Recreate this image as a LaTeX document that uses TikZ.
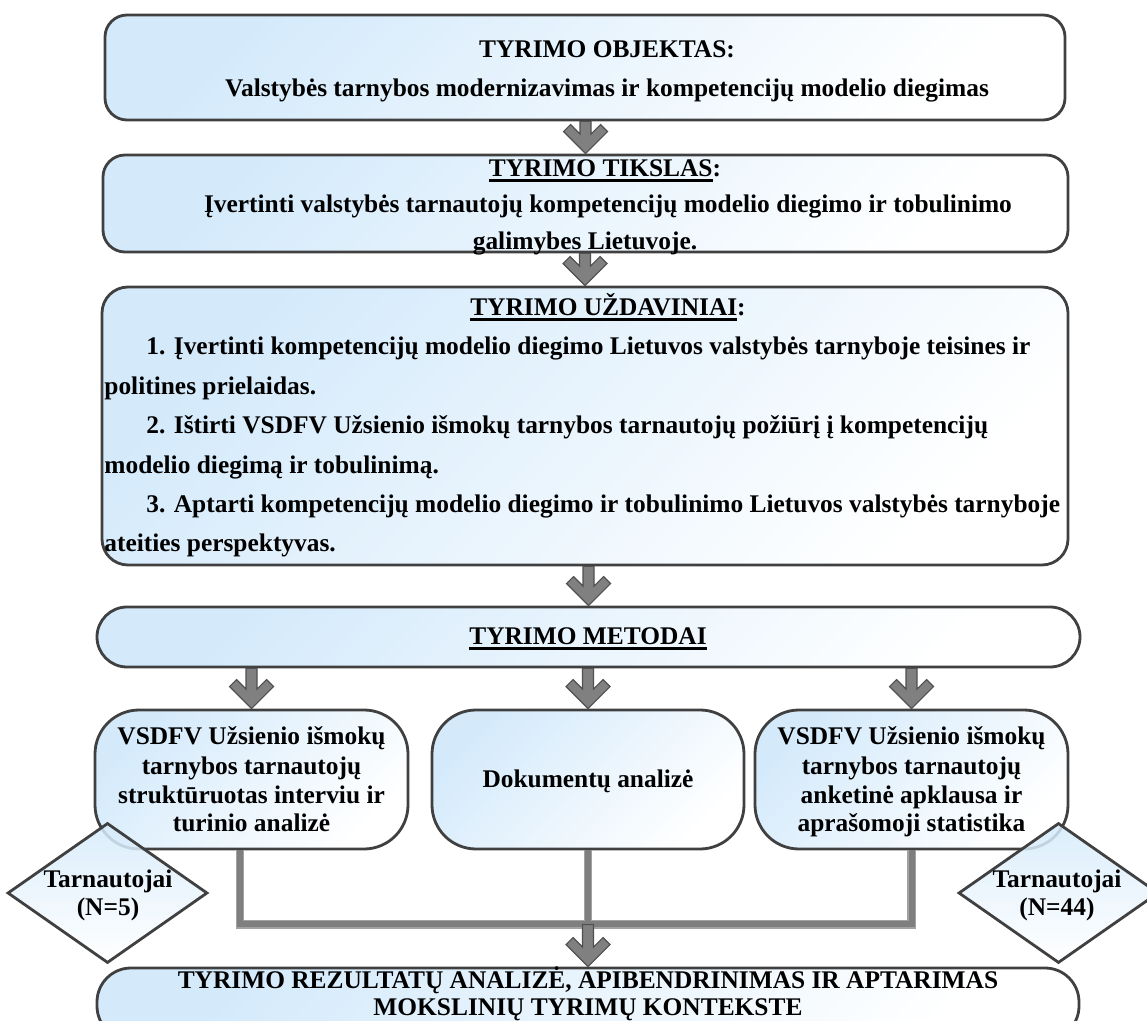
\documentclass[tikz,border=0pt]{standalone}
\usepackage{fontspec}
\setmainfont{Liberation Serif}
\usetikzlibrary{shapes.geometric,calc}

\definecolor{boxline}{HTML}{404040}
\definecolor{boxblue}{HTML}{D4EAFB}
\definecolor{arrfill}{HTML}{808080}
\definecolor{arrline}{HTML}{505050}
\definecolor{connout}{HTML}{A2A2A2}
\definecolor{conncore}{HTML}{7F7F7F}

% thick underline under a word group
\newcommand\ulbox[1]{{\setbox0\hbox{#1}\rlap{\rule[-2.3pt]{\wd0}{1.1pt}}\box0}}
% stacked lines; #1 = baseline distance, first row carries the baseline
\newcommand\clines[2]{{\fontsize{12.7}{#1}\selectfont\setlength\tabcolsep{0pt}\begin{tabular}[t]{c}#2\end{tabular}}}
\newcommand\llines[2]{{\fontsize{12.7}{#1}\selectfont\setlength\tabcolsep{0pt}\begin{tabular}[t]{l}#2\end{tabular}}}

% gray block arrow: shaft from the level of #1 down to the tip at #2
\newcommand\blockarrow[2]{%
  \draw[blockarr] (#2) -- ++(-22,-22) -- ++(7,-7) -- ++(9.5,9.5)
    -- ($(#1 -| #2)+(-5.5,0)$) -- ($(#1 -| #2)+(5.5,0)$)
    -- ($(#2)+(5.5,-19.5)$) -- ++(9.5,-9.5) -- ++(7,7) -- cycle;}

\begin{document}
\begin{tikzpicture}[x=0.5pt,y=-0.5pt,
  box/.style={draw=boxline, line width=1.4pt, top color=boxblue, bottom color=white,
    shading angle=45, inner sep=0pt, rectangle},
  diam/.style={diamond, draw=boxline, line width=1.4pt, top color=boxblue, bottom color=white,
    fill opacity=0.85, inner sep=0pt, minimum width=100pt, minimum height=70pt},
  txt/.style={inner sep=0pt, anchor=base, font=\bfseries\fontsize{12.7}{15}\selectfont, text=black},
  ltxt/.style={txt, anchor=base west},
  blockarr/.style={fill=arrfill, draw=arrline, line width=0.6pt, line join=miter},
  connout/.style={draw=connout, line width=4.4pt},
  conncore/.style={draw=conncore, line width=3pt}]

\useasboundingbox (0,0) rectangle (1147,1021);
\clip (0,0) rectangle (1147,1021);

% ---- boxes ----
\node[box, minimum width=480pt, minimum height=52.5pt, rounded corners=11pt] (obj) at (585,67.5) {};
\node[box, minimum width=482.5pt, minimum height=48.5pt, rounded corners=11pt] (goal) at (585.5,203.5) {};
\node[box, minimum width=483pt, minimum height=139pt, rounded corners=13pt] (tasks) at (585,426) {};
\node[box, minimum width=491.5pt, minimum height=30pt, rounded corners=15pt] (meth) at (588.5,637) {};
\node[box, minimum width=156.5pt, minimum height=69.5pt, rounded corners=22pt] (left) at (251.5,779.5) {};
\node[box, minimum width=156pt, minimum height=69.5pt, rounded corners=22pt] (mid) at (588,779.5) {};
\node[box, minimum width=156.5pt, minimum height=69.5pt, rounded corners=22pt] (right) at (911.5,779.5) {};
\node[box, minimum width=491pt, minimum height=36pt, rounded corners=17pt] (res) at (588,1004) {};

% ---- arrows ----
\blockarrow{obj.south}{goal.north}
\blockarrow{goal.south}{tasks.north}
\blockarrow{tasks.south}{meth.north}
\blockarrow{meth.south}{left.north}
\blockarrow{meth.south}{mid.north}
\blockarrow{meth.south}{right.north}

% ---- joining lines under the method boxes ----
\coordinate (lt) at ([xshift=-5.75pt]left.south);
\coordinate (jn) at ($(mid.south)+(0,74)$);
\foreach \st in {connout,conncore}{
  \draw[\st] (lt) |- (right.south |- jn) -- (right.south);
  \draw[\st] (mid.south) -- (jn);
}
\blockarrow{jn}{res.north}

% ---- sample diamonds ----
\node[diam] (d1) at (107.5,893) {};
\node[diam] (d2) at (1058.5,893) {};

% ---- texts ----
\node[txt] (objt) at (607,58) {TYRIMO OBJEKTAS:};
\node[txt] (objs) at (607,97) {Valstybės tarnybos modernizavimas ir kompetencijų modelio diegimas};

\node[txt] (goalt) at (605,177) {\ulbox{TYRIMO TIKSLAS}:};
\node[txt] (goals) at (608,213) {Įvertinti valstybės tarnautojų kompetencijų modelio diegimo ir tobulinimo};
\node[txt] (goals2) at (585,250) {galimybes Lietuvoje.};

\node[txt] (taskt) at (608,316) {\ulbox{TYRIMO UŽDAVINIAI}:};
\node[ltxt] (taskl) at (104,355) {\llines{19.7pt}{%
  \hspace*{21pt}1. Įvertinti kompetencijų modelio diegimo Lietuvos valstybės tarnyboje teisines ir\\
  politines prielaidas.\\
  \hspace*{21pt}2. Ištirti VSDFV Užsienio išmokų tarnybos tarnautojų požiūrį į kompetencijų\\
  modelio diegimą ir tobulinimą.\\
  \hspace*{21pt}3. Aptarti kompetencijų modelio diegimo ir tobulinimo Lietuvos valstybės tarnyboje\\
  ateities perspektyvas.}};

\node[txt] (metht) at (588,645) {\ulbox{TYRIMO METODAI}};

\node[txt] (leftt) at (251.5,745) {\clines{14.5pt}{VSDFV Užsienio išmokų\\tarnybos tarnautojų\\struktūruotas interviu ir\\turinio analizė}};
\node[txt] (midt) at (588,787) {Dokumentų analizė};
\node[txt] (rightt) at (911.5,745) {\clines{14.5pt}{VSDFV Užsienio išmokų\\tarnybos tarnautojų\\anketinė apklausa ir\\aprašomoji statistika}};

\node[txt] (d1t) at (108,887) {\clines{14pt}{Tarnautojai\\(N=5)}};
\node[txt] (d2t) at (1057,887) {\clines{14pt}{Tarnautojai\\(N=44)}};

\node[txt] (rest) at (588,988) {\clines{13.7pt}{TYRIMO REZULTATŲ ANALIZĖ, APIBENDRINIMAS IR APTARIMAS\\MOKSLINIŲ TYRIMŲ KONTEKSTE}};

\end{tikzpicture}
\end{document}
